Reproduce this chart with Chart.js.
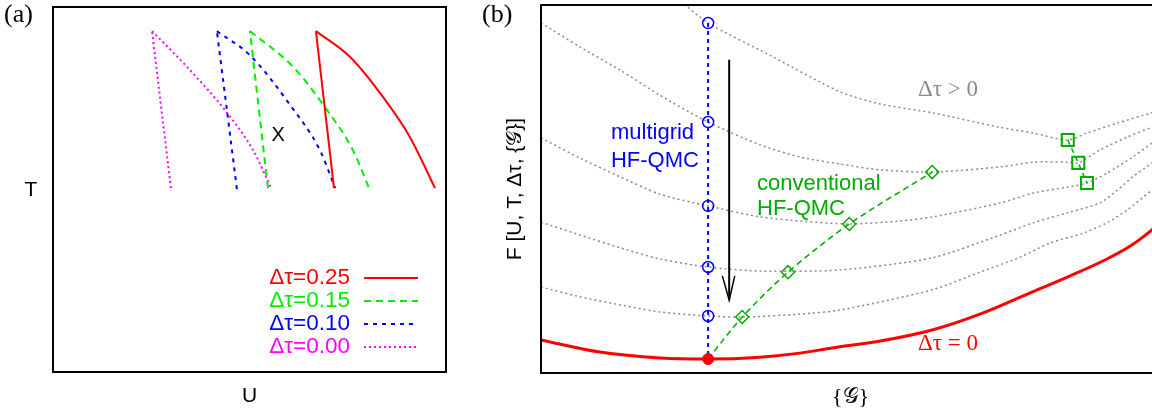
<!DOCTYPE html>
<html><head><meta charset="utf-8">
<script src="https://cdn.jsdelivr.net/npm/chart.js@4.4.1/dist/chart.umd.min.js"></script>
<style>
html,body{margin:0;padding:0;background:#fff;overflow:hidden;width:1152px;height:416px;}
#ca{position:absolute;left:0;top:0;}
#cb{position:absolute;left:470px;top:0;}
</style></head><body>
<canvas id="ca" width="470" height="416"></canvas>
<canvas id="cb" width="720" height="416"></canvas>
<script>
// ---------- Panel (a): T-U phase boundaries (first point = left leg bottom, second = apex, rest = right leg) ----------
const legendLabels = ['Δτ=0.25', 'Δτ=0.15', 'Δτ=0.10', 'Δτ=0.00'];
const tau025U = [7.15, 6.69, 7.56, 8.40, 9.08, 9.72];
const tau025T = [5.04, 9.34, 8.63, 7.53, 6.44, 5.04];
const tau015U = [5.47, 5.01, 6.11, 6.97, 7.63, 8.04];
const tau015T = [5.04, 9.34, 8.36, 7.18, 6.08, 5.04];
const tau010U = [4.68, 4.17, 5.01, 6.03, 6.79, 7.18];
const tau010T = [5.01, 9.34, 8.68, 7.32, 6.08, 5.04];
const tau000U = [3.00, 2.52, 3.41, 4.43, 5.09, 5.55];
const tau000T = [5.04, 9.34, 8.36, 7.10, 6.08, 5.04];
const markX = [5.73], markT = [6.49];

// ---------- Panel (b): free energy landscapes ----------
const g1X = [22.5, 27.0, 37.5, 48.3, 54.8, 63.2, 74.0, 79.5, 85.1, 88.2, 93.1, 98.7, 100.8];
const g1Y = [101.1, 95.1, 85.9, 76.4, 73.1, 70.7, 66.8, 65.2, 63.3, 65.2, 67.9, 70.7, 71.7];
const g2X = [0, 6.3, 12.8, 19.2, 27.0, 35.4, 41.8, 48.3, 54.8, 63.2, 74.2, 79.5, 85.0, 86.8, 90.3, 94.7, 98.7, 100.8];
const g2Y = [95.1, 88.6, 82.3, 75.5, 68.2, 62.0, 58.7, 56.8, 55.2, 54.6, 56.0, 57.3, 57.3, 57.1, 60.6, 64.1, 66.8, 68.2];
const g3X = [0, 6.3, 12.8, 19.2, 27.0, 35.4, 41.8, 49.8, 58.0, 63.2, 74.2, 79.5, 85.0, 88.2, 91.4, 95.6, 98.7, 100.8];
const g3Y = [63.9, 58.4, 53.3, 48.6, 45.4, 42.4, 41.3, 40.5, 41.3, 42.4, 46.2, 48.9, 50.5, 51.6, 54.3, 58.7, 62.5, 65.2];
const g4X = [0, 6.3, 12.8, 19.2, 27.0, 35.4, 48.3, 63.2, 74.2, 79.5, 85.0, 90.3, 93.1, 95.6, 98.7, 100.8];
const g4Y = [41.0, 37.5, 34.0, 31.0, 28.8, 27.7, 28.0, 31.3, 37.5, 40.8, 43.5, 46.2, 49.7, 53.3, 57.1, 60.1];
const g5X = [0, 6.3, 12.8, 19.2, 27.0, 32.5, 41.8, 48.3, 63.2, 70.9, 77.4, 82.2, 87.6, 91.4, 94.7, 98.7, 100.8];
const g5Y = [23.4, 20.7, 18.5, 16.6, 15.5, 15.2, 16.0, 17.1, 22.6, 27.4, 31.5, 35.3, 38.0, 40.8, 44.3, 49.7, 52.4];
const f0X = [0, 9.5, 19.2, 27.0, 35.4, 41.8, 47.0, 54.8, 63.2, 70.9, 79.3, 85.5, 91.1, 95.2, 98.7, 100.8];
const f0Y = [9.0, 5.7, 4.1, 3.8, 4.3, 5.4, 6.8, 8.7, 11.7, 16.0, 22.0, 26.4, 30.7, 34.5, 38.9, 42.1];
const gridX = 27.0;
const gridY = [95.1, 68.2, 45.4, 28.8, 15.5];
const minX = [27.0], minY = [3.8];
const convX = [27.0, 32.5, 39.9, 49.8, 63.2];
const convY = [3.8, 15.2, 27.4, 40.5, 54.6];
const sqX = [85.1, 86.8, 88.2];
const sqY = [63.3, 57.1, 51.6];
const arrowX = [30.4, 30.4], arrowY = [85.1, 19.8];
const headX = [29.3, 30.4, 31.3], headY = [26.4, 19.8, 26.4];

const pts = (xs, ys) => xs.map((x, i) => ({x: x, y: ys[i]}));

// ---------- helpers ----------
function txt(ctx, s, x, y, font, color, align, base) {
  ctx.save(); ctx.font = font; ctx.fillStyle = color;
  ctx.textAlign = align || 'left'; ctx.textBaseline = base || 'alphabetic';
  ctx.fillText(s, x, y); ctx.restore();
}
const SANS = '"Liberation Sans", Arial, sans-serif';
const SERIF = '"Liberation Serif", "Times New Roman", serif';

const frame = {
  id: 'frame',
  afterDatasetsDraw(chart) {
    const a = chart.chartArea, c = chart.ctx;
    c.save(); c.lineWidth = 2; c.strokeStyle = '#000';
    c.strokeRect(a.left, a.top, a.right - a.left, a.bottom - a.top);
    c.restore();
  }
};

const baseOpts = (pad) => ({
  responsive: false, animation: false, events: [],
  layout: {padding: pad, autoPadding: false},
  plugins: {legend: {display: false}, tooltip: {enabled: false}},
  scales: {
    x: {type: 'linear', display: false, min: 0, max: pad.xmax || 10},
    y: {type: 'linear', display: false, min: 0, max: pad.ymax || 10}
  }
});

// ---------- Chart (a) ----------
const seriesA = [
  {U: tau025U, T: tau025T, color: '#ff0000', dash: []},
  {U: tau015U, T: tau015T, color: '#00ee00', dash: [7, 5]},
  {U: tau010U, T: tau010T, color: '#0000ff', dash: [4, 5]},
  {U: tau000U, T: tau000T, color: '#ff00ff', dash: [2, 3]}
];
const dsA = [];
seriesA.forEach(s => {
  dsA.push({data: pts(s.U.slice(0, 2), s.T.slice(0, 2)), showLine: true, borderColor: s.color,
    borderWidth: 2, borderDash: s.dash, pointRadius: 0, tension: 0, clip: 4});
  dsA.push({data: pts(s.U.slice(1), s.T.slice(1)), showLine: true, borderColor: s.color,
    borderWidth: 2, borderDash: s.dash, pointRadius: 0, cubicInterpolationMode: 'monotone', clip: 4});
});

const labelsA = {
  id: 'labelsA',
  afterDraw(chart) {
    const c = chart.ctx, a = chart.chartArea, sx = chart.scales.x, sy = chart.scales.y;
    txt(c, '(a)', 4, 22, '26px ' + SERIF, '#000');
    txt(c, 'T', 31, 190, '21px ' + SANS, '#000', 'center', 'middle');
    txt(c, 'U', (a.left + a.right) / 2, 396, '21px ' + SANS, '#000', 'center', 'middle');
    txt(c, 'X', sx.getPixelForValue(markX[0]), sy.getPixelForValue(markT[0]), '20px ' + SANS, '#000', 'center', 'middle');
    const rows = [94, 71, 48, 25];
    seriesA.forEach((s, i) => {
      const y = a.bottom - rows[i];
      txt(c, legendLabels[i], a.right - 96, y, '22.5px ' + SANS, s.color, 'right', 'middle');
      c.save(); c.strokeStyle = s.color; c.lineWidth = 2; c.setLineDash(s.dash);
      c.beginPath(); c.moveTo(a.right - 82, y); c.lineTo(a.right - 28, y); c.stroke(); c.restore();
    });
  }
};

new Chart(document.getElementById('ca'), {
  type: 'scatter',
  data: {datasets: dsA},
  options: baseOpts({left: 53, top: 7, right: 24, bottom: 44}),
  plugins: [frame, labelsA]
});

// ---------- Chart (b) ----------
const GRAY = '#8a8a8a', GREEN = '#00aa00', BLUE = '#0000ff', RED = '#ff0000';
const grayCurves = [[g1X, g1Y], [g2X, g2Y], [g3X, g3Y], [g4X, g4Y], [g5X, g5Y]];
const dsB = [
  {data: pts(minX, minY), pointRadius: 5.5, pointBackgroundColor: RED, pointBorderColor: RED, showLine: false},
  {data: pts(sqX, sqY), showLine: true, borderColor: GREEN, borderWidth: 1.5, borderDash: [5, 4],
    pointStyle: 'rect', pointRadius: 8.5, pointBorderColor: GREEN, pointBorderWidth: 2, pointBackgroundColor: 'rgba(0,0,0,0)', tension: 0},
  {data: pts(convX, convY), showLine: true, borderColor: GREEN, borderWidth: 1.5, borderDash: [6, 4],
    pointStyle: 'rectRot', pointRadius: convX.map((v, i) => i === 0 ? 0 : 6.5), pointBorderColor: GREEN, pointBorderWidth: 1.5,
    pointBackgroundColor: 'rgba(0,0,0,0)', tension: 0.3},
  {data: pts(gridY.map(() => gridX), gridY), showLine: false, pointStyle: 'circle', pointRadius: 5.5,
    pointBorderColor: BLUE, pointBorderWidth: 1.5, pointBackgroundColor: 'rgba(0,0,0,0)'},
  {data: pts([gridX, gridX], [gridY[0], minY[0]]), showLine: true, borderColor: BLUE, borderWidth: 2,
    borderDash: [4, 4], pointRadius: 0},
  {data: pts(arrowX, arrowY), showLine: true, borderColor: '#000', borderWidth: 2, pointRadius: 0},
  {data: pts(headX, headY), showLine: true, borderColor: '#000', borderWidth: 1.5, pointRadius: 0, tension: 0},
  {data: pts(f0X, f0Y), showLine: true, borderColor: RED, borderWidth: 3, pointRadius: 0,
    cubicInterpolationMode: 'monotone', clip: 0}
];
grayCurves.forEach(g => dsB.push({data: pts(g[0], g[1]), showLine: true, borderColor: GRAY, borderWidth: 1.5,
  borderDash: [2, 3], pointRadius: 0, tension: 0.25, clip: 0}));

const notesB = [
  {t: 'multigrid', x: 11.3, y: 63.6, font: '22px ' + SANS, color: BLUE},
  {t: 'HF-QMC', x: 11.3, y: 56.0, font: '22px ' + SANS, color: BLUE},
  {t: 'conventional', x: 34.9, y: 49.7, font: '22px ' + SANS, color: GREEN},
  {t: 'HF-QMC', x: 34.9, y: 42.9, font: '22px ' + SANS, color: GREEN},
  {t: 'Δτ > 0', x: 60.9, y: 75.3, font: '23px ' + SERIF, color: GRAY},
  {t: 'Δτ = 0', x: 60.9, y: 6.3, font: '23px ' + SERIF, color: RED}
];
const labelsB = {
  id: 'labelsB',
  afterDraw(chart) {
    const c = chart.ctx, a = chart.chartArea, sx = chart.scales.x, sy = chart.scales.y;
    notesB.forEach(n => txt(c, n.t, sx.getPixelForValue(n.x), sy.getPixelForValue(n.y), n.font, n.color));
    txt(c, '(b)', 12, 22, '26px ' + SERIF, '#000');
    txt(c, '{𝒢}', (a.left + a.right) / 2, 397, '22px ' + SERIF, '#000', 'center', 'middle');
    c.save(); c.translate(45, (a.top + a.bottom) / 2); c.rotate(-Math.PI / 2);
    txt(c, 'F [U, T, Δτ, {𝒢}]', 0, 0, '21px ' + SANS, '#000', 'center', 'middle');
    c.restore();
  }
};

new Chart(document.getElementById('cb'), {
  type: 'scatter',
  data: {datasets: dsB},
  options: baseOpts({left: 71, top: 5, right: 30, bottom: 43, xmax: 100, ymax: 100}),
  plugins: [frame, labelsB]
});
</script>
</body></html>
